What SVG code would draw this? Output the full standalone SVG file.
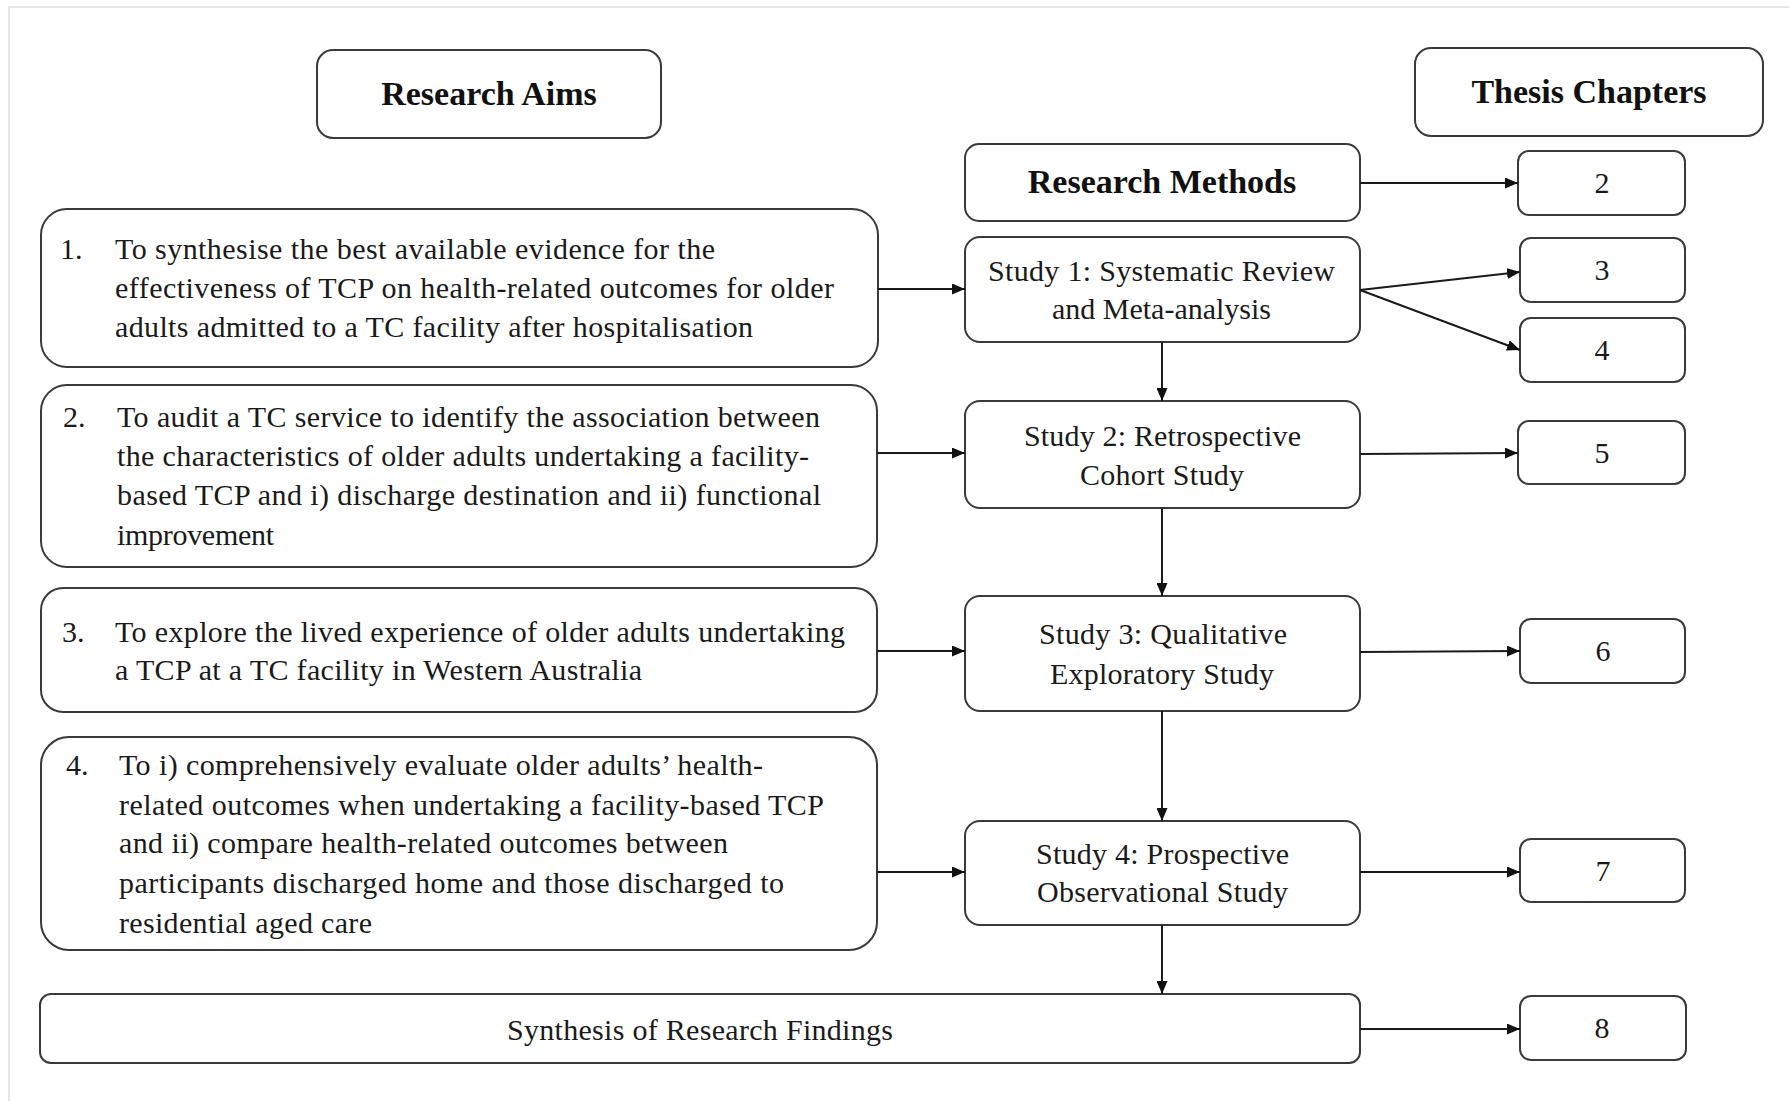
<svg xmlns="http://www.w3.org/2000/svg" width="1789" height="1101" viewBox="0 0 1789 1101">
<style>
  .box { fill: #ffffff; stroke: #3a3a3a; stroke-width: 2; }
  .hdr { font-family: "Liberation Serif", "Times New Roman", serif; font-weight: bold; font-size: 34px; fill: #111111; text-anchor: middle; }
  .txt { font-family: "Liberation Serif", "Times New Roman", serif; font-size: 30px; fill: #1a1a1a; }
  .mid { text-anchor: middle; }
  .con { stroke: #1a1a1a; stroke-width: 2; fill: none; marker-end: url(#arr); }
  .frame { stroke: #dddddd; stroke-width: 1.5; fill: none; }
</style>
<defs>
  <marker id="arr" markerWidth="13" markerHeight="11" refX="13" refY="5.5" orient="auto" markerUnits="userSpaceOnUse">
    <path d="M0,0 L13,5.5 L0,11 z" fill="#111111"/>
  </marker>
</defs>
<rect width="1789" height="1101" fill="#ffffff"/>
<path class="frame" d="M9,1101 L9,7 L1789,7"/>

<g id="research-aims">
  <rect class="box" x="317" y="50" width="344" height="88" rx="16"/>
  <text class="hdr" x="489" y="105">Research Aims</text>
</g>
<g id="thesis-chapters">
  <rect class="box" x="1415" y="48" width="348" height="88" rx="16"/>
  <text class="hdr" x="1589" y="103">Thesis Chapters</text>
</g>
<g id="research-methods">
  <rect class="box" x="965" y="144" width="395" height="77" rx="14"/>
  <text class="hdr" x="1162" y="193">Research Methods</text>
</g>

<g id="aim1">
  <rect class="box" x="41" y="209" width="837" height="158" rx="26"/>
  <text class="txt" x="60" y="259">1.</text>
  <text class="txt" x="115" y="259" textLength="600" lengthAdjust="spacing">To synthesise the best available evidence for the</text>
  <text class="txt" x="115" y="298" textLength="719" lengthAdjust="spacing">effectiveness of TCP on health-related outcomes for older</text>
  <text class="txt" x="115" y="337" textLength="638" lengthAdjust="spacing">adults admitted to a TC facility after hospitalisation</text>
</g>
<g id="aim2">
  <rect class="box" x="41" y="385" width="836" height="182" rx="26"/>
  <text class="txt" x="63" y="427">2.</text>
  <text class="txt" x="117" y="427" textLength="703" lengthAdjust="spacing">To audit a TC service to identify the association between</text>
  <text class="txt" x="117" y="466" textLength="692" lengthAdjust="spacing">the characteristics of older adults undertaking a facility-</text>
  <text class="txt" x="117" y="505" textLength="704" lengthAdjust="spacing">based TCP and i) discharge destination and ii) functional</text>
  <text class="txt" x="117" y="545" textLength="157" lengthAdjust="spacing">improvement</text>
</g>
<g id="aim3">
  <rect class="box" x="41" y="588" width="836" height="124" rx="22"/>
  <text class="txt" x="62" y="642">3.</text>
  <text class="txt" x="115" y="642" textLength="730" lengthAdjust="spacing">To explore the lived experience of older adults undertaking</text>
  <text class="txt" x="115" y="680" textLength="527" lengthAdjust="spacing">a TCP at a TC facility in Western Australia</text>
</g>
<g id="aim4">
  <rect class="box" x="41" y="737" width="836" height="213" rx="28"/>
  <text class="txt" x="66" y="775">4.</text>
  <text class="txt" x="119" y="775" textLength="644" lengthAdjust="spacing">To i) comprehensively evaluate older adults’ health-</text>
  <text class="txt" x="119" y="815" textLength="705" lengthAdjust="spacing">related outcomes when undertaking a facility-based TCP</text>
  <text class="txt" x="119" y="853" textLength="609" lengthAdjust="spacing">and ii) compare health-related outcomes between</text>
  <text class="txt" x="119" y="893" textLength="665" lengthAdjust="spacing">participants discharged home and those discharged to</text>
  <text class="txt" x="119" y="933" textLength="253" lengthAdjust="spacing">residential aged care</text>
</g>

<g id="study1">
  <rect class="box" x="965" y="237" width="395" height="105" rx="15"/>
  <text class="txt" x="988" y="281" textLength="347" lengthAdjust="spacing">Study 1: Systematic Review</text>
  <text class="txt" x="1052" y="319" textLength="219" lengthAdjust="spacing">and Meta-analysis</text>
</g>
<g id="study2">
  <rect class="box" x="965" y="401" width="395" height="107" rx="15"/>
  <text class="txt" x="1024" y="446" textLength="277" lengthAdjust="spacing">Study 2: Retrospective</text>
  <text class="txt" x="1080" y="485" textLength="164" lengthAdjust="spacing">Cohort Study</text>
</g>
<g id="study3">
  <rect class="box" x="965" y="596" width="395" height="115" rx="15"/>
  <text class="txt" x="1039" y="644" textLength="248" lengthAdjust="spacing">Study 3: Qualitative</text>
  <text class="txt" x="1050" y="684" textLength="224" lengthAdjust="spacing">Exploratory Study</text>
</g>
<g id="study4">
  <rect class="box" x="965" y="821" width="395" height="104" rx="15"/>
  <text class="txt" x="1036" y="864" textLength="253" lengthAdjust="spacing">Study 4: Prospective</text>
  <text class="txt" x="1037" y="902" textLength="251" lengthAdjust="spacing">Observational Study</text>
</g>
<g id="synthesis">
  <rect class="box" x="40" y="994" width="1320" height="69" rx="11"/>
  <text class="txt" x="507" y="1040" textLength="386" lengthAdjust="spacing">Synthesis of Research Findings</text>
</g>

<g id="ch2"><rect class="box" x="1518" y="151" width="167" height="64" rx="11"/><text class="txt mid" x="1602" y="193">2</text></g>
<g id="ch3"><rect class="box" x="1520" y="238" width="165" height="64" rx="11"/><text class="txt mid" x="1602" y="280">3</text></g>
<g id="ch4"><rect class="box" x="1520" y="318" width="165" height="64" rx="11"/><text class="txt mid" x="1602" y="360">4</text></g>
<g id="ch5"><rect class="box" x="1518" y="421" width="167" height="63" rx="11"/><text class="txt mid" x="1602" y="463">5</text></g>
<g id="ch6"><rect class="box" x="1520" y="619" width="165" height="64" rx="11"/><text class="txt mid" x="1603" y="661">6</text></g>
<g id="ch7"><rect class="box" x="1520" y="839" width="165" height="63" rx="11"/><text class="txt mid" x="1603" y="881">7</text></g>
<g id="ch8"><rect class="box" x="1520" y="996" width="166" height="64" rx="11"/><text class="txt mid" x="1602" y="1038">8</text></g>

<g id="connectors">
  <line class="con" x1="878" y1="289" x2="965" y2="289"/>
  <line class="con" x1="877" y1="453" x2="965" y2="453"/>
  <line class="con" x1="877" y1="651" x2="965" y2="651"/>
  <line class="con" x1="877" y1="872" x2="965" y2="872"/>
  <line class="con" x1="1360" y1="183" x2="1518" y2="183"/>
  <line class="con" x1="1360" y1="290" x2="1520" y2="272"/>
  <line class="con" x1="1360" y1="290" x2="1520" y2="350"/>
  <line class="con" x1="1360" y1="454" x2="1518" y2="453"/>
  <line class="con" x1="1360" y1="652" x2="1520" y2="651"/>
  <line class="con" x1="1360" y1="872" x2="1520" y2="872"/>
  <line class="con" x1="1360" y1="1029" x2="1520" y2="1029"/>
  <line class="con" x1="1162" y1="342" x2="1162" y2="401"/>
  <line class="con" x1="1162" y1="508" x2="1162" y2="596"/>
  <line class="con" x1="1162" y1="711" x2="1162" y2="821"/>
  <line class="con" x1="1162" y1="925" x2="1162" y2="994"/>
</g>
</svg>
